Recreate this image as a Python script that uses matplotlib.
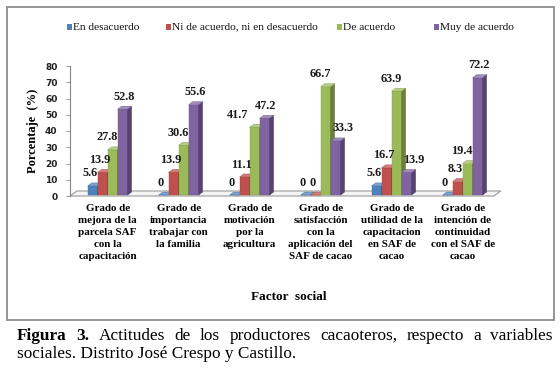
import matplotlib
matplotlib.use("Agg")
import matplotlib.pyplot as plt
from matplotlib.patches import Polygon, Rectangle
import numpy as np

# ---------------- data ----------------
categories = [
    "Grado de\nmejora de la\nparcela SAF\ncon la\ncapacitación",
    "Grado de\nimportancia\ntrabajar con\nla familia",
    "Grado de\nmotivación\npor la\nagricultura",
    "Grado de\nsatisfacción\ncon la\naplicación del\nSAF de cacao",
    "Grado de\nutilidad de la\ncapacitacion\nen SAF de\ncacao",
    "Grado de\nintención de\ncontinuidad\ncon el SAF de\ncacao",
]
series_names = ["En desacuerdo", "Ni de acuerdo, ni en desacuerdo", "De acuerdo", "Muy de acuerdo"]
en_desacuerdo = [5.6, 0, 0, 0, 5.6, 0]
ni_de_acuerdo = [13.9, 13.9, 11.1, 0, 16.7, 8.3]
de_acuerdo = [27.8, 30.6, 41.7, 66.7, 63.9, 19.4]
muy_de_acuerdo = [52.8, 55.6, 47.2, 33.3, 13.9, 72.2]
yticks = [0, 10, 20, 30, 40, 50, 60, 70, 80]
y_label = "Porcentaje  (%)"
x_label = "Factor  social"
caption_line1 = ["Figura", "3.", "Actitudes", "de", "los", "productores", "cacaoteros,", "respecto", "a", "variables"]
caption_line2 = "sociales. Distrito José Crespo y Castillo."

series = [en_desacuerdo, ni_de_acuerdo, de_acuerdo, muy_de_acuerdo]
colors = ["#4F81BD", "#C0504D", "#9BBB59", "#8064A2"]

W, H = 560, 371
fig = plt.figure(figsize=(W / 100, H / 100), dpi=100)
fig.patch.set_facecolor("white")

def fx(px):
    return px / W

def fy(py):
    return 1 - py / H

SERIF = ["Liberation Serif", "DejaVu Serif"]

# outer box
fig.patches.append(Rectangle((fx(7), fy(320)), fx(554) - fx(7), fy(7) - fy(320),
                             transform=fig.transFigure, fill=False,
                             edgecolor="#8c8c8c", linewidth=1.3, zorder=0))

# axes
ax_l, ax_r, ax_t, ax_b = 70, 496, 66, 196
ax = fig.add_axes([fx(ax_l), fy(ax_b), fx(ax_r) - fx(ax_l), fy(ax_t) - fy(ax_b)])
ax.set_xlim(-0.5, 5.5)
ax.set_ylim(0, 80)
ax.patch.set_alpha(0)
for s in ["top", "right", "bottom"]:
    ax.spines[s].set_visible(False)
ax.spines["left"].set_color("#868686")
ax.spines["left"].set_linewidth(0.8)

px_per_x = (ax_r - ax_l) / 6.0
px_per_y = (ax_b - ax_t) / 80.0

def shade(c, f):
    r, g, b = matplotlib.colors.to_rgb(c)
    return (r * f, g * f, b * f)

def tint(c, f):
    r, g, b = matplotlib.colors.to_rgb(c)
    return (r + (1 - r) * f, g + (1 - g) * f, b + (1 - b) * f)

# floor
fdx, fdy = 7 / px_per_x, 5 / px_per_y
floor = Polygon([(-0.5, 0), (5.5 - 0.03, 0), (5.5 - 0.03 + fdx, fdy), (-0.5 + fdx, fdy)],
                closed=True, facecolor="#f5f5f5", edgecolor="#9a9a9a", linewidth=0.8,
                clip_on=False, zorder=1)
ax.add_patch(floor)

bw = 10 / px_per_x
ddx, ddy = 4 / px_per_x, 3 / px_per_y
shift = 0.03
label_dx = [-2, -2, -4, 1]  # points, per series
x = np.arange(len(categories))
for gi in range(len(categories)):
    for si, vals in enumerate(series):
        h = vals[gi]
        xl = x[gi] + shift + (si - 2) * bw
        z = 2 + si
        c = colors[si]
        base = 0.6
        front = Rectangle((xl, base), bw, h, facecolor=c, edgecolor=shade(c, 0.85),
                          linewidth=0.3, zorder=z, clip_on=False)
        side = Polygon([(xl + bw, base), (xl + bw + ddx, base + ddy), (xl + bw + ddx, base + h + ddy), (xl + bw, base + h)],
                       closed=True, facecolor=shade(c, 0.68), edgecolor=shade(c, 0.6),
                       linewidth=0.3, zorder=z, clip_on=False)
        top = Polygon([(xl, base + h), (xl + ddx, base + h + ddy), (xl + bw + ddx, base + h + ddy), (xl + bw, base + h)],
                      closed=True, facecolor=tint(c, 0.25), edgecolor=shade(c, 0.85),
                      linewidth=0.3, zorder=z, clip_on=False)
        ax.add_patch(front)
        ax.add_patch(side)
        ax.add_patch(top)
        dx = label_dx[si]
        # avoid collisions with neighbouring labels / taller bars
        if si == 2 and abs(series[3][gi] - h) < 9:
            dx -= 8
        if si == 3 and series[2][gi] > h + 9:
            dx += 4
        lbl = ("%g" % h) if h != 0 else "0"
        ax.annotate(lbl, (xl + bw / 2, base + h + ddy), xytext=(dx, 2.5), textcoords="offset points",
                    ha="center", va="bottom", fontsize=8.8, fontweight="bold",
                    family=SERIF, color="#1a1a1a", zorder=10, annotation_clip=False)

# y axis
ax.set_yticks(yticks)
ax.set_yticklabels([str(v) for v in yticks], fontsize=6.5, fontweight="bold",
                   family="DejaVu Sans", color="#222222")
ax.tick_params(axis="y", length=3, width=0.6, color="#868686", pad=6)
ax.set_ylabel(y_label, fontsize=9, fontweight="bold", family=SERIF, labelpad=4)

# x axis categories
ax.set_xticks(x + shift)
ax.set_xticklabels(categories, fontsize=7.9, fontweight="bold", family=SERIF, linespacing=1.4)
ax.tick_params(axis="x", length=0, pad=6)

fig.text(fx(289), fy(297), x_label, ha="center", va="center", fontsize=9.5,
         fontweight="bold", family=SERIF)

# legend (manual)
leg_x = [67, 166, 337, 434]
leg_y = 27
for lx, name, c in zip(leg_x, series_names, colors):
    fig.patches.append(Rectangle((fx(lx), fy(leg_y + 2.5)), fx(5), fy(0) - fy(5),
                                 transform=fig.transFigure, facecolor=c, edgecolor="none"))
    fig.text(fx(lx + 6), fy(leg_y), name, ha="left", va="center", fontsize=8.2,
             family=SERIF, color="#111111")

# caption: justified line 1
renderer = fig.canvas.get_renderer()
x0, x1 = 17, 553
base1, base2 = 340, 358
cap_fs = 12.4
texts = []
for i, wd in enumerate(caption_line1):
    bold = i < 2
    t = fig.text(0, fy(base1), wd, ha="left", va="baseline", fontsize=cap_fs,
                 fontweight="bold" if bold else "normal", family=SERIF, color="black")
    texts.append(t)
widths = [t.get_window_extent(renderer).width for t in texts]
gap = ((x1 - x0) - sum(widths)) / (len(texts) - 1)
cur = x0
for t, wdt in zip(texts, widths):
    t.set_x(fx(cur))
    cur += wdt + gap
fig.text(fx(x0), fy(base2), caption_line2, ha="left", va="baseline", fontsize=cap_fs,
         family=SERIF, color="black")

fig.savefig("out.png", dpi=100)
